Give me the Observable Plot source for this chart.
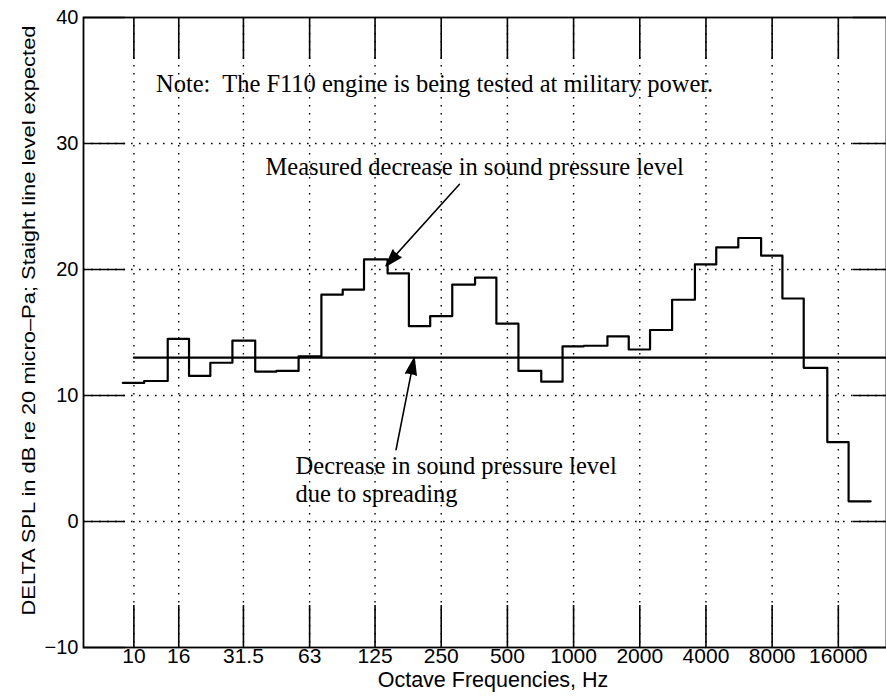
<!DOCTYPE html>
<html><head><meta charset="utf-8">
<script src="https://cdn.jsdelivr.net/npm/d3@7"></script>
<script src="https://cdn.jsdelivr.net/npm/@observablehq/plot@0.6"></script>
<style>
body{margin:0;background:#fff;}
#chart svg{display:block;}
</style>
</head><body><div id="chart"></div>
<script>
// 1/3-octave band centre frequencies (Hz)
const bandCenters = [10,12.5,16,20,25,31.5,40,50,63,80,100,125,160,200,250,315,400,500,630,800,1000,1250,1600,2000,2500,3150,4000,5000,6300,8000,10000,12500,16000,20000];
// Measured decrease in sound pressure level (dB)
const measuredDelta = [11.0,11.15,14.5,11.55,12.6,14.35,11.9,11.95,13.1,18.0,18.4,20.8,19.7,15.5,16.3,18.8,19.35,15.7,11.95,11.1,13.9,13.95,14.7,13.65,15.2,17.6,20.4,21.75,22.5,21.1,17.7,12.2,6.3,1.6];
// Decrease due to spreading (straight line level expected, dB)
const spreadingLevel = 13.0;
const spreadingStart = 10;
// Axis ticks
const xTickValues = [10,16,31.5,63,125,250,500,1000,2000,4000,8000,16000];
const xTickLabels = ["10","16","31.5","63","125","250","500","1000","2000","4000","8000","16000"];
const yTickValues = [-10,0,10,20,30,40];
const yGridValues = [0,10,20,30];
const xDomain = [5.9, 26500];
const yDomain = [-10, 40];
// Texts
const xLabel = "Octave Frequencies, Hz";
const yLabel = "DELTA SPL in dB re 20 micro\u2013Pa; Staight line level expected";
const noteText = "Note:  The F110 engine is being tested at military power.";
const measuredLabel = "Measured decrease in sound pressure level";
const spreadingLabel = ["Decrease in sound pressure level", "due to spreading"];
// Annotation anchor points (data units: Hz, dB)
const notePos = {x: 12.6, y: 34.7};
const measuredPos = {x: 39.7, y: 28.1};
const spreadingPos = {x: 54.4, y: 4.24};
const arrows = [
  {x1: 302, y1: 26.75, x2: 140.3, y2: 20.3},
  {x1: 155.8, y1: 5.7, x2: 188.2, y2: 12.95}
];

// step data at band edges (step-after)
const half = Math.pow(2, 1/6);
const stepData = bandCenters.map((f, i) => ({x: f / half, y: measuredDelta[i]}));
stepData.push({x: bandCenters[bandCenters.length - 1] * half, y: measuredDelta[measuredDelta.length - 1]});
const spreadData = [{x: spreadingStart, y: spreadingLevel}, {x: xDomain[1], y: spreadingLevel}];

// tick lengths expressed in data units
const yTickLen = 42 / 12.6; // dB
const leftTickEnd = xDomain[0] * Math.pow(2, 42 / 66);
const rightTickStart = xDomain[1] / Math.pow(2, 33 / 66);

const sans = "'Liberation Sans', Arial, Helvetica, sans-serif";
const serif = "'Liberation Serif', 'Times New Roman', serif";

const chart = Plot.plot({
  width: 886,
  height: 699,
  marginLeft: 83,
  marginRight: 0,
  marginTop: 17,
  marginBottom: 52,
  style: {fontFamily: sans, background: "white", color: "black"},
  x: {type: "log", domain: xDomain, axis: null},
  y: {type: "linear", domain: yDomain, axis: null},
  marks: [
    Plot.ruleX(xTickValues, {x: d => d, stroke: "black", strokeWidth: 1.4, strokeDasharray: "1.6,6.4"}),
    Plot.ruleY(yGridValues, {y: d => d, stroke: "black", strokeWidth: 1.4, strokeDasharray: "1.6,6.4"}),
    // inward ticks
    Plot.ruleX(xTickValues, {x: d => d, y1: yDomain[0], y2: yDomain[0] + yTickLen, stroke: "black", strokeWidth: 1.6}),
    Plot.ruleX(xTickValues, {x: d => d, y1: yDomain[1], y2: yDomain[1] - yTickLen, stroke: "black", strokeWidth: 1.6}),
    Plot.ruleY(yTickValues, {y: d => d, x1: xDomain[0], x2: leftTickEnd, stroke: "black", strokeWidth: 1.6}),
    Plot.ruleY(yTickValues, {y: d => d, x1: rightTickStart, x2: xDomain[1], stroke: "black", strokeWidth: 1.6}),
    Plot.frame({stroke: "black", strokeWidth: 1.8}),
    // data
    Plot.line(spreadData, {x: "x", y: "y", stroke: "black", strokeWidth: 2.2}),
    Plot.line(stepData, {x: "x", y: "y", curve: "step-after", stroke: "black", strokeWidth: 2.2}),
    // tick labels
    Plot.text(xTickValues, {x: d => d, text: (d, i) => xTickLabels[i], frameAnchor: "bottom", dy: 15, fontSize: 21, fill: "black"}),
    Plot.text(yTickValues, {y: d => d, text: d => d < 0 ? "\u2212" + Math.abs(d) : String(d), frameAnchor: "left", dx: -5, textAnchor: "end", fontSize: 20, fill: "black"}),
    Plot.text([xLabel], {text: d => d, frameAnchor: "bottom", dx: 8, dy: 39, fontSize: 21.5, fill: "black"}),
    Plot.text([yLabel], {text: d => d, frameAnchor: "left", textAnchor: "middle", dx: -55, dy: -12, rotate: -90, fontSize: 19, fill: "black", className: "ylabel"}),
    // annotations
    Plot.text([noteText], {x: notePos.x, y: notePos.y, text: d => d, textAnchor: "start", fontFamily: serif, fontSize: 24.5, fill: "black"}),
    Plot.text([measuredLabel], {x: measuredPos.x, y: measuredPos.y, text: d => d, textAnchor: "start", fontFamily: serif, fontSize: 24.5, fill: "black"}),
    Plot.text([spreadingLabel.join("\n")], {x: spreadingPos.x, y: spreadingPos.y, text: d => d, textAnchor: "start", lineAnchor: "top", dy: -14, lineHeight: 1.14, fontFamily: serif, fontSize: 24.5, fill: "black"}),
    Plot.arrow(arrows, {x1: "x1", y1: "y1", x2: "x2", y2: "y2", stroke: "black", strokeWidth: 1.6, headLength: 16, headAngle: 36, className: "annot-arrow"})
  ]
});
document.getElementById("chart").appendChild(chart);
// filled arrowheads, as in the reference
chart.querySelectorAll("g[aria-label='arrow'] path, g.annot-arrow path").forEach(p => {
  p.setAttribute("fill", "black");
  p.style.fill = "black";
  p.setAttribute("stroke-linejoin", "miter");
});
// stretch the y label to the reference length
const yl = chart.querySelector("g.ylabel text") || Array.from(chart.querySelectorAll("text")).find(t => t.textContent.startsWith("DELTA"));
if (yl) { yl.setAttribute("textLength", "590"); yl.setAttribute("lengthAdjust", "spacingAndGlyphs"); }
</script>
</body></html>
